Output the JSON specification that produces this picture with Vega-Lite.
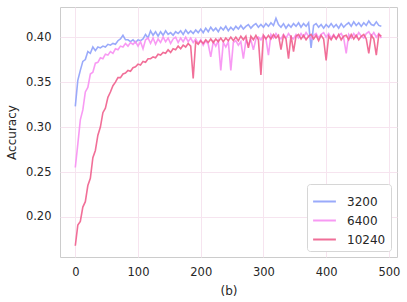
{
  "$schema": "https://vega.github.io/schema/vega-lite/v6.json",
  "autosize": "none",
  "width": 337,
  "height": 250,
  "padding": {"left": 60, "top": 7, "right": 10, "bottom": 45},
  "background": "white",
  "config": {
    "font": "DejaVu Sans",
    "view": {"stroke": "#cccccc", "strokeWidth": 1},
    "axis": {"grid": true, "gridColor": "#f6e4ef", "gridWidth": 1, "domain": false, "ticks": false, "labelFontSize": 11.5, "labelColor": "#262626", "titleFontSize": 12, "titleFontWeight": "normal", "titleColor": "#262626", "labelPadding": 9}
  },
  "data": {"values": [
    {"x":0,"3200":0.323,"6400":0.255,"10240":0.168},
    {"x":4,"3200":0.352,"6400":0.281,"10240":0.191},
    {"x":8,"3200":0.363,"6400":0.308,"10240":0.195},
    {"x":12,"3200":0.373,"6400":0.319,"10240":0.211},
    {"x":16,"3200":0.375,"6400":0.339,"10240":0.217},
    {"x":20,"3200":0.384,"6400":0.344,"10240":0.235},
    {"x":24,"3200":0.382,"6400":0.359,"10240":0.243},
    {"x":28,"3200":0.389,"6400":0.361,"10240":0.266},
    {"x":32,"3200":0.385,"6400":0.371,"10240":0.274},
    {"x":36,"3200":0.389,"6400":0.372,"10240":0.291},
    {"x":40,"3200":0.388,"6400":0.377,"10240":0.300},
    {"x":44,"3200":0.390,"6400":0.376,"10240":0.316},
    {"x":48,"3200":0.389,"6400":0.381,"10240":0.321},
    {"x":52,"3200":0.392,"6400":0.380,"10240":0.333},
    {"x":56,"3200":0.391,"6400":0.384,"10240":0.339},
    {"x":60,"3200":0.393,"6400":0.382,"10240":0.346},
    {"x":64,"3200":0.392,"6400":0.387,"10240":0.350},
    {"x":68,"3200":0.396,"6400":0.386,"10240":0.355},
    {"x":72,"3200":0.398,"6400":0.390,"10240":0.355},
    {"x":76,"3200":0.402,"6400":0.389,"10240":0.359},
    {"x":80,"3200":0.397,"6400":0.393,"10240":0.360},
    {"x":84,"3200":0.397,"6400":0.390,"10240":0.363},
    {"x":88,"3200":0.395,"6400":0.394,"10240":0.362},
    {"x":92,"3200":0.397,"6400":0.392,"10240":0.366},
    {"x":96,"3200":0.394,"6400":0.395,"10240":0.367},
    {"x":100,"3200":0.397,"6400":0.390,"10240":0.370},
    {"x":104,"3200":0.396,"6400":0.395,"10240":0.369},
    {"x":108,"3200":0.398,"6400":0.387,"10240":0.373},
    {"x":112,"3200":0.403,"6400":0.397,"10240":0.372},
    {"x":116,"3200":0.399,"6400":0.399,"10240":0.376},
    {"x":120,"3200":0.407,"6400":0.393,"10240":0.376},
    {"x":124,"3200":0.402,"6400":0.399,"10240":0.378},
    {"x":128,"3200":0.406,"6400":0.392,"10240":0.377},
    {"x":132,"3200":0.401,"6400":0.398,"10240":0.381},
    {"x":136,"3200":0.406,"6400":0.394,"10240":0.380},
    {"x":140,"3200":0.402,"6400":0.400,"10240":0.383},
    {"x":144,"3200":0.407,"6400":0.395,"10240":0.382},
    {"x":148,"3200":0.403,"6400":0.399,"10240":0.386},
    {"x":152,"3200":0.405,"6400":0.393,"10240":0.383},
    {"x":156,"3200":0.402,"6400":0.398,"10240":0.387},
    {"x":160,"3200":0.406,"6400":0.400,"10240":0.386},
    {"x":164,"3200":0.404,"6400":0.394,"10240":0.390},
    {"x":168,"3200":0.407,"6400":0.399,"10240":0.387},
    {"x":172,"3200":0.403,"6400":0.395,"10240":0.391},
    {"x":176,"3200":0.408,"6400":0.400,"10240":0.389},
    {"x":180,"3200":0.404,"6400":0.395,"10240":0.393},
    {"x":184,"3200":0.407,"6400":0.399,"10240":0.390},
    {"x":188,"3200":0.404,"6400":0.394,"10240":0.354},
    {"x":192,"3200":0.408,"6400":0.398,"10240":0.395},
    {"x":196,"3200":0.405,"6400":0.393,"10240":0.392},
    {"x":200,"3200":0.409,"6400":0.397,"10240":0.396},
    {"x":204,"3200":0.405,"6400":0.391,"10240":0.393},
    {"x":208,"3200":0.410,"6400":0.396,"10240":0.397},
    {"x":212,"3200":0.406,"6400":0.392,"10240":0.394},
    {"x":216,"3200":0.411,"6400":0.378,"10240":0.398},
    {"x":220,"3200":0.407,"6400":0.395,"10240":0.394},
    {"x":224,"3200":0.410,"6400":0.390,"10240":0.398},
    {"x":228,"3200":0.406,"6400":0.396,"10240":0.395},
    {"x":232,"3200":0.411,"6400":0.363,"10240":0.399},
    {"x":236,"3200":0.408,"6400":0.394,"10240":0.395},
    {"x":240,"3200":0.412,"6400":0.389,"10240":0.399},
    {"x":244,"3200":0.407,"6400":0.395,"10240":0.396},
    {"x":248,"3200":0.411,"6400":0.363,"10240":0.400},
    {"x":252,"3200":0.408,"6400":0.394,"10240":0.396},
    {"x":256,"3200":0.412,"6400":0.396,"10240":0.400},
    {"x":260,"3200":0.409,"6400":0.391,"10240":0.396},
    {"x":264,"3200":0.413,"6400":0.395,"10240":0.401},
    {"x":268,"3200":0.409,"6400":0.376,"10240":0.397},
    {"x":272,"3200":0.412,"6400":0.396,"10240":0.401},
    {"x":276,"3200":0.414,"6400":0.392,"10240":0.388},
    {"x":280,"3200":0.410,"6400":0.397,"10240":0.401},
    {"x":284,"3200":0.413,"6400":0.386,"10240":0.397},
    {"x":288,"3200":0.415,"6400":0.398,"10240":0.402},
    {"x":292,"3200":0.411,"6400":0.400,"10240":0.397},
    {"x":296,"3200":0.414,"6400":0.397,"10240":0.358},
    {"x":300,"3200":0.411,"6400":0.402,"10240":0.402},
    {"x":304,"3200":0.415,"6400":0.398,"10240":0.398},
    {"x":308,"3200":0.412,"6400":0.380,"10240":0.402},
    {"x":312,"3200":0.416,"6400":0.403,"10240":0.398},
    {"x":316,"3200":0.413,"6400":0.399,"10240":0.403},
    {"x":320,"3200":0.421,"6400":0.404,"10240":0.399},
    {"x":324,"3200":0.414,"6400":0.400,"10240":0.402},
    {"x":328,"3200":0.411,"6400":0.398,"10240":0.386},
    {"x":332,"3200":0.415,"6400":0.403,"10240":0.402},
    {"x":336,"3200":0.410,"6400":0.399,"10240":0.398},
    {"x":340,"3200":0.414,"6400":0.404,"10240":0.376},
    {"x":344,"3200":0.411,"6400":0.400,"10240":0.402},
    {"x":348,"3200":0.415,"6400":0.398,"10240":0.384},
    {"x":352,"3200":0.412,"6400":0.403,"10240":0.401},
    {"x":356,"3200":0.416,"6400":0.399,"10240":0.403},
    {"x":360,"3200":0.411,"6400":0.404,"10240":0.398},
    {"x":364,"3200":0.415,"6400":0.400,"10240":0.402},
    {"x":368,"3200":0.412,"6400":0.405,"10240":0.397},
    {"x":372,"3200":0.416,"6400":0.401,"10240":0.401},
    {"x":376,"3200":0.388,"6400":0.398,"10240":0.403},
    {"x":380,"3200":0.413,"6400":0.402,"10240":0.398},
    {"x":384,"3200":0.415,"6400":0.404,"10240":0.402},
    {"x":388,"3200":0.411,"6400":0.399,"10240":0.396},
    {"x":392,"3200":0.414,"6400":0.403,"10240":0.402},
    {"x":396,"3200":0.410,"6400":0.405,"10240":0.398},
    {"x":400,"3200":0.414,"6400":0.400,"10240":0.374},
    {"x":404,"3200":0.411,"6400":0.404,"10240":0.401},
    {"x":408,"3200":0.415,"6400":0.399,"10240":0.397},
    {"x":412,"3200":0.411,"6400":0.403,"10240":0.402},
    {"x":416,"3200":0.414,"6400":0.398,"10240":0.398},
    {"x":420,"3200":0.410,"6400":0.402,"10240":0.403},
    {"x":424,"3200":0.415,"6400":0.404,"10240":0.397},
    {"x":428,"3200":0.411,"6400":0.399,"10240":0.401},
    {"x":432,"3200":0.414,"6400":0.382,"10240":0.402},
    {"x":436,"3200":0.416,"6400":0.403,"10240":0.397},
    {"x":440,"3200":0.412,"6400":0.399,"10240":0.403},
    {"x":444,"3200":0.417,"6400":0.404,"10240":0.398},
    {"x":448,"3200":0.413,"6400":0.400,"10240":0.402},
    {"x":452,"3200":0.416,"6400":0.405,"10240":0.397},
    {"x":456,"3200":0.412,"6400":0.401,"10240":0.401},
    {"x":460,"3200":0.416,"6400":0.399,"10240":0.403},
    {"x":464,"3200":0.413,"6400":0.404,"10240":0.398},
    {"x":468,"3200":0.418,"6400":0.406,"10240":0.382},
    {"x":472,"3200":0.414,"6400":0.401,"10240":0.402},
    {"x":476,"3200":0.413,"6400":0.405,"10240":0.398},
    {"x":480,"3200":0.417,"6400":0.400,"10240":0.380},
    {"x":484,"3200":0.413,"6400":0.404,"10240":0.403},
    {"x":488,"3200":0.412,"6400":0.399,"10240":0.401}
  ]},
  "transform": [{"fold": ["3200", "6400", "10240"], "as": ["series", "acc"]}],
  "encoding": {
    "x": {"field": "x", "type": "quantitative", "title": "(b)", "scale": {"domain": [-24.4, 513], "nice": false, "zero": false}, "axis": {"values": [0, 100, 200, 300, 400, 500], "titlePadding": 8}},
    "y": {"field": "acc", "type": "quantitative", "title": "Accuracy", "scale": {"domain": [0.1555, 0.4335], "nice": false, "zero": false}, "axis": {"values": [0.2, 0.25, 0.3, 0.35, 0.4], "format": ".2f", "titlePadding": 7}},
    "color": {"field": "series", "type": "nominal", "title": null, "scale": {"domain": ["3200", "6400", "10240"], "range": ["#8fa1fa", "#f78ff2", "#ef5f8d"]},
      "legend": {"orient": "bottom-right", "offset": 6, "symbolType": "stroke", "symbolSize": 520, "symbolStrokeWidth": 2, "labelFontSize": 12, "labelColor": "#262626", "fillColor": "white", "strokeColor": "#d6d6d6", "cornerRadius": 3, "padding": 5, "rowPadding": -4, "labelOffset": 10}}
  },
  "layer": [
    {"transform": [{"filter": "datum.series === '3200'"}], "mark": {"type": "line", "strokeWidth": 1.6, "opacity": 0.9}},
    {"transform": [{"filter": "datum.series === '6400'"}], "mark": {"type": "line", "strokeWidth": 1.6, "opacity": 0.9}},
    {"transform": [{"filter": "datum.series === '10240'"}], "mark": {"type": "line", "strokeWidth": 1.6, "opacity": 0.9}}
  ]
}
